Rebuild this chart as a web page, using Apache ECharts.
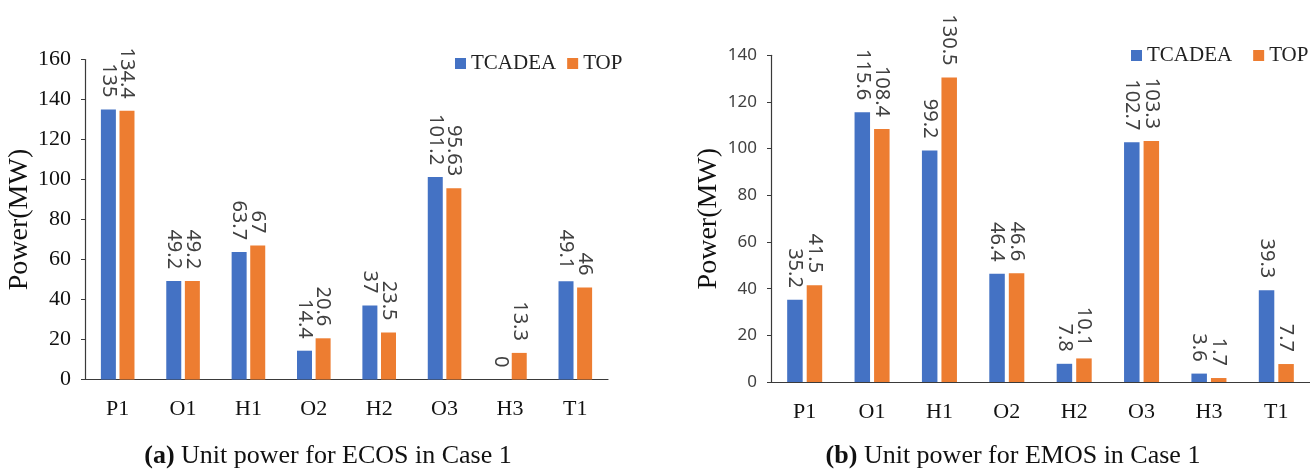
<!DOCTYPE html>
<html>
<head>
<meta charset="utf-8">
<title>Unit power comparison</title>
<script src="https://cdn.jsdelivr.net/npm/echarts@6/dist/echarts.min.js"></script>
<style>
  html, body { margin: 0; padding: 0; background: #fff; }
  #chart { width: 1310px; height: 469px; }
</style>
</head>
<body>
<div id="chart"></div>
<script>
// Generating units shown on both panels
const units = ['P1', 'O1', 'H1', 'O2', 'H2', 'O3', 'H3', 'T1'];
const seriesNames = ['TCADEA', 'TOP'];

// (a) ECOS, Case 1 — unit power (MW)
const ecosTcadea = [135, 49.2, 63.7, 14.4, 37, 101.2, 0, 49.1];
const ecosTop = [134.4, 49.2, 67, 20.6, 23.5, 95.63, 13.3, 46];

// (b) EMOS, Case 1 — unit power (MW)
const emosTcadea = [35.2, 115.6, 99.2, 46.4, 7.8, 102.7, 3.6, 39.3];
const emosTop = [41.5, 108.4, 130.5, 46.6, 10.1, 103.3, 1.7, 7.7];

// Axis ranges
const ecosAxisMax = 160;
const emosAxisMax = 140;
const axisStep = 20;

const captions = [
  { tag: '(a)', text: 'Unit power for ECOS in Case 1' },
  { tag: '(b)', text: 'Unit power for EMOS in Case 1' }
];

const SERIF = '"Liberation Serif", "Times New Roman", serif';
const SANS = '"Noto Sans", "Open Sans", sans-serif';
const BLUE = '#4472C4';
const ORANGE = '#ED7D31';

function barLabel() {
  return {
    show: true,
    position: 'top',
    distance: 12,
    rotate: -90,
    align: 'right',
    verticalAlign: 'middle',
    fontFamily: SANS,
    fontSize: 20,
    color: '#404040'
  };
}

function barSeries(name, data, idx, color, width, gap) {
  return {
    name: name,
    type: 'bar',
    xAxisIndex: idx,
    yAxisIndex: idx,
    data: data,
    barWidth: width,
    barGap: gap,
    itemStyle: { color: color },
    label: barLabel(),
    emphasis: { disabled: true }
  };
}

function categoryAxis(idx) {
  return {
    type: 'category',
    gridIndex: idx,
    data: units,
    axisLine: { show: true, lineStyle: { color: '#3a3a3a', width: 1.2 } },
    axisTick: { show: false },
    axisLabel: { fontFamily: SERIF, fontSize: 22, color: '#111', margin: 19 }
  };
}

function valueAxis(idx, max, labelFont, labelSize, labelColor, nameGap) {
  return {
    type: 'value',
    gridIndex: idx,
    min: 0,
    max: max,
    interval: axisStep,
    name: 'Power(MW)',
    nameLocation: 'middle',
    nameGap: nameGap,
    nameTextStyle: { fontFamily: SERIF, fontSize: 28, color: '#111' },
    axisLine: { show: true, lineStyle: { color: '#3a3a3a', width: 1.2 } },
    axisTick: { show: true, inside: false, length: 4, lineStyle: { color: '#3a3a3a' } },
    splitLine: { show: false },
    axisLabel: { fontFamily: labelFont, fontSize: labelSize, color: labelColor, margin: 14 }
  };
}

function legend(pos, gap) {
  return Object.assign({
    data: seriesNames,
    itemWidth: 11,
    itemHeight: 11,
    itemGap: gap,
    icon: 'rect',
    orient: 'horizontal',
    textStyle: { fontFamily: SERIF, fontSize: 21, color: '#222' },
    selectedMode: false
  }, pos);
}

function caption(c, center) {
  return {
    text: '{b|' + c.tag + '} ' + c.text,
    left: center,
    top: 438,
    textAlign: 'center',
    textStyle: {
      fontFamily: SERIF,
      fontSize: 26,
      fontWeight: 'normal',
      color: '#111',
      rich: {
        b: { fontFamily: SERIF, fontSize: 26, fontWeight: 'bold', color: '#111' }
      }
    }
  };
}

const chart = echarts.init(document.getElementById('chart'), null, { renderer: 'canvas' });

chart.setOption({
  backgroundColor: '#fff',
  animation: false,
  title: [caption(captions[0], 323), caption(captions[1], 1008)],
  legend: [
    legend({ left: 450, top: 48 }, 11),
    legend({ left: 1126, top: 40, width: 200 }, 21)
  ],
  grid: [
    { left: 85, top: 59.5, width: 523, height: 320 },
    { left: 771, top: 55.3, width: 539, height: 326.7 }
  ],
  xAxis: [categoryAxis(0), categoryAxis(1)],
  yAxis: [
    valueAxis(0, ecosAxisMax, SERIF, 22, '#111', 51),
    valueAxis(1, emosAxisMax, SANS, 17, '#404040', 48)
  ],
  series: [
    barSeries(seriesNames[0], ecosTcadea, 0, BLUE, 15, '24%'),
    barSeries(seriesNames[1], ecosTop, 0, ORANGE, 15, '24%'),
    barSeries(seriesNames[0], emosTcadea, 1, BLUE, 15.5, '26%'),
    barSeries(seriesNames[1], emosTop, 1, ORANGE, 15.5, '26%')
  ]
});
</script>
</body>
</html>
